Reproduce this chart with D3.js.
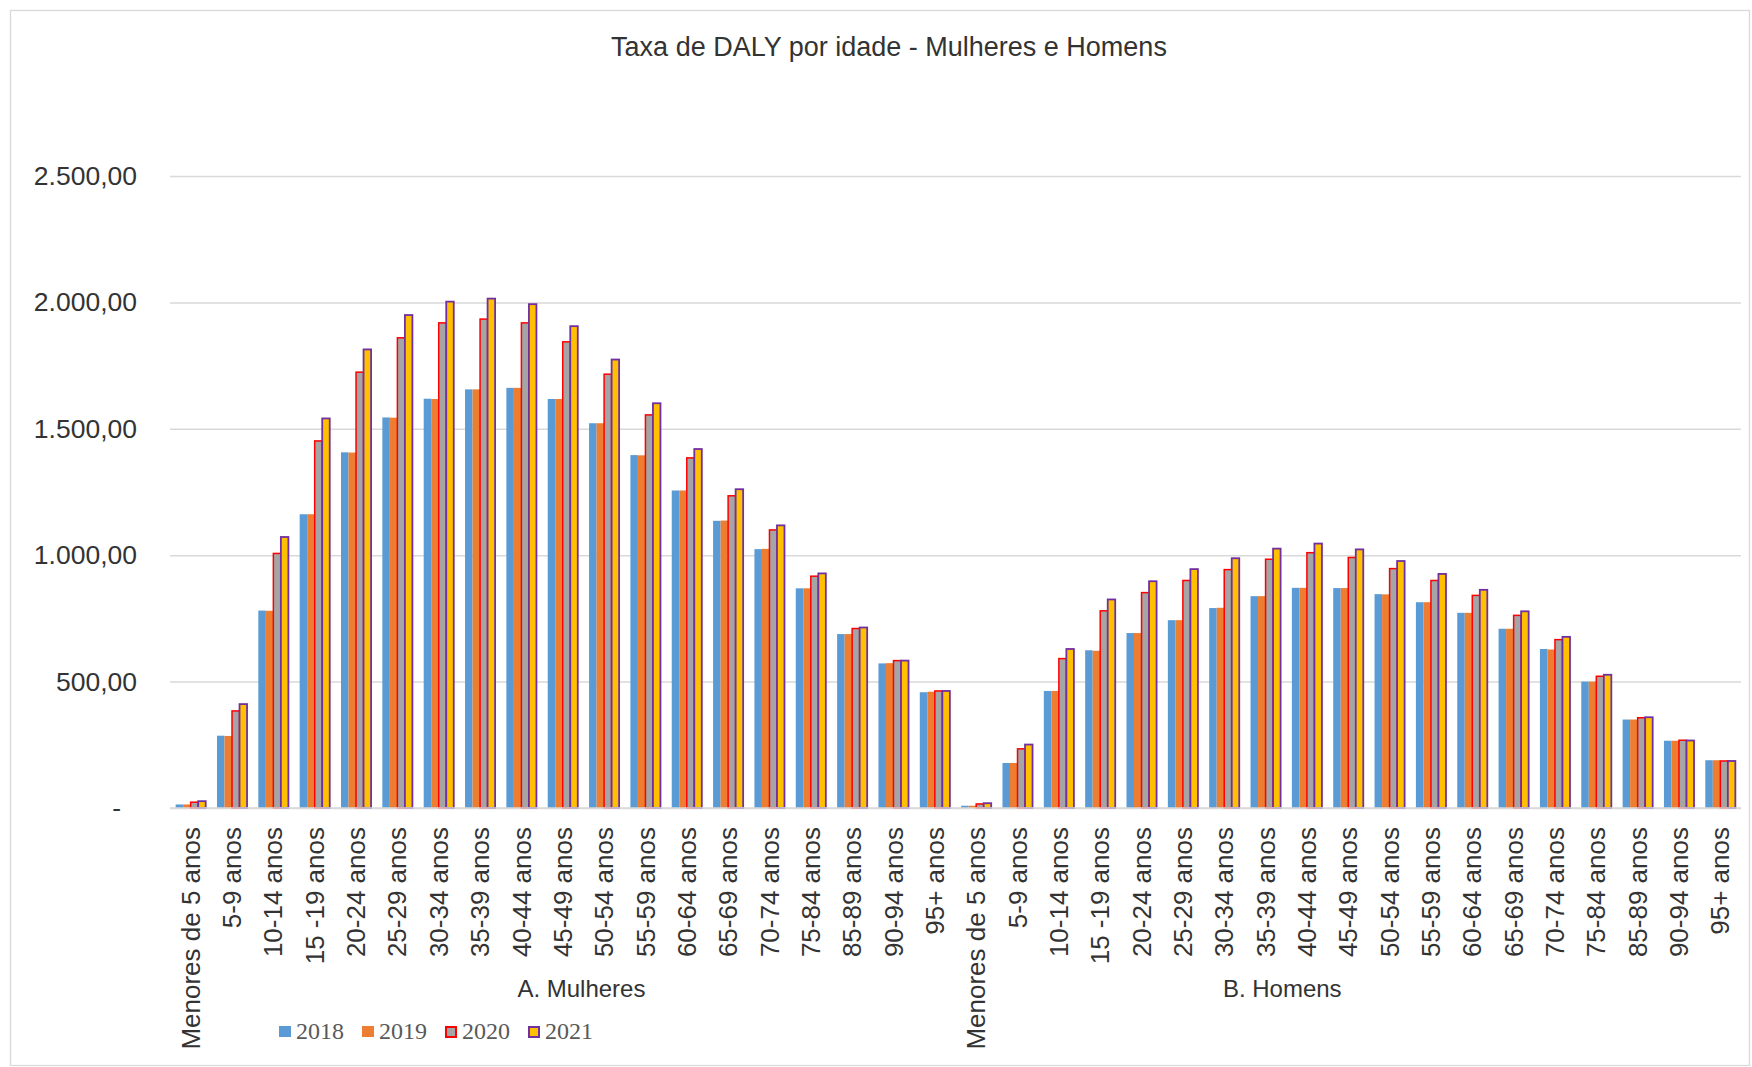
<!DOCTYPE html>
<html>
<head>
<meta charset="utf-8">
<script src="https://cdn.jsdelivr.net/npm/d3@7"></script>
<style>
	body { margin: 0; background: #fff; }
	svg { display: block; }
</style>
</head>
<body>
<div id="chart"></div>
<script>
var ageGroups = ["Menores de 5 anos", "5-9 anos", "10-14 anos", "15 -19 anos", "20-24 anos", "25-29 anos",
	"30-34 anos", "35-39 anos", "40-44 anos", "45-49 anos", "50-54 anos", "55-59 anos", "60-64 anos",
	"65-69 anos", "70-74 anos", "75-84 anos", "85-89 anos", "90-94 anos", "95+ anos"];
var sexGroups = ["A. Mulheres", "B. Homens"];
var years = ["2018", "2019", "2020", "2021"];

var mulheres2018 = [14, 286, 781, 1162, 1407, 1545, 1619, 1656, 1662, 1618, 1522, 1396, 1256, 1136, 1024, 869, 688, 572, 458];
var mulheres2019 = [14, 285, 780, 1162, 1406, 1544, 1618, 1656, 1662, 1618, 1522, 1395, 1256, 1137, 1025, 869, 688, 573, 460];
var mulheres2020 = [23, 384, 1007, 1452, 1724, 1860, 1919, 1934, 1919, 1844, 1716, 1555, 1385, 1235, 1100, 917, 710, 583, 463];
var mulheres2021 = [27, 411, 1072, 1541, 1814, 1950, 2003, 2015, 1993, 1906, 1774, 1601, 1420, 1261, 1118, 928, 714, 583, 463];

var homens2018 = [9, 178, 463, 624, 692, 743, 791, 838, 871, 870, 846, 814, 772, 709, 629, 500, 350, 266, 189];
var homens2019 = [9, 178, 463, 622, 692, 743, 792, 838, 871, 870, 845, 814, 772, 709, 627, 500, 350, 266, 189];
var homens2020 = [16, 234, 591, 780, 852, 900, 943, 984, 1010, 991, 947, 900, 841, 762, 666, 521, 357, 268, 186];
var homens2021 = [19, 251, 629, 825, 897, 945, 988, 1026, 1046, 1023, 977, 926, 863, 778, 677, 527, 359, 267, 186];

var yTicks = [0, 500, 1000, 1500, 2000, 2500];

var fills = ["#5B9BD5", "#ED7D31", "#A5A5A5", "#FFC000"];
var strokes = ["none", "none", "#FF0000", "#7030A0"];

var width = 1752,
	height = 1067,
	plotLeft = 170,
	plotRight = 1741,
	plotTop = 176,
	plotBottom = 808;

var series = {
	"A. Mulheres": [mulheres2018, mulheres2019, mulheres2020, mulheres2021],
	"B. Homens": [homens2018, homens2019, homens2020, homens2021]
};

// one entry per (sex, age group) so the two halves share one band scale
var rows = [];
sexGroups.forEach(function(sex) {
	ageGroups.forEach(function(age, i) {
		rows.push({
			key: sex + "|" + age,
			sex: sex,
			age: age,
			values: series[sex].map(function(s) { return s[i]; })
		});
	});
});

var svg = d3.select("#chart").append("svg")
	.attr("width", width)
	.attr("height", height);

svg.append("rect")
	.attr("x", 10.5)
	.attr("y", 10.5)
	.attr("width", width - 13)
	.attr("height", height - 12)
	.style("fill", "#fff")
	.style("stroke", "#D9D9D9")
	.style("stroke-width", 1.3);

svg.append("text")
	.attr("x", width / 2 + 13)
	.attr("y", 56)
	.style("fill", "#333")
	.style("font-family", "'Liberation Sans', Arial, sans-serif")
	.style("font-size", "27px")
	.style("text-anchor", "middle")
	.text("Taxa de DALY por idade - Mulheres e Homens");

var x0 = d3.scaleBand()
	.domain(rows.map(function(d) { return d.key; }))
	.range([plotLeft, plotRight]);

// Excel gap width 150%: four bars plus 1.5 bar widths of gap per category
var barW = x0.bandwidth() / 5.5;
var x1 = d3.scaleBand()
	.domain(years)
	.range([barW * 0.75, barW * 4.75]);

var y = d3.scaleLinear()
	.domain([0, 2500])
	.range([plotBottom, plotTop]);

// gridlines
var grid = svg.append("g")
	.attr("transform", "translate(" + plotLeft + ",0)")
	.call(d3.axisLeft(y).tickValues(yTicks).tickSize(-(plotRight - plotLeft)).tickFormat(""));
grid.select(".domain").remove();
grid.selectAll("line")
	.style("stroke", "#D9D9D9")
	.style("stroke-width", 1.5);

// y labels
var yAxis = svg.append("g")
	.attr("transform", "translate(" + plotLeft + ",0)")
	.call(d3.axisLeft(y)
		.tickValues(yTicks)
		.tickSize(0)
		.tickPadding(33)
		.tickFormat(function(d) {
			if (d === 0) {
				return "-";
			}
			return d3.format(",.2f")(d).replace(/,/g, "#").replace(".", ",").replace(/#/g, ".");
		}));
yAxis.select(".domain").remove();
yAxis.selectAll("text")
	.style("fill", "#333")
	.style("font-family", "'Liberation Sans', Arial, sans-serif")
	.style("font-size", "26.5px")
	.attr("dx", function(d) { return d === 0 ? -16 : 0; });

// bars
var groups = svg.append("g")
	.selectAll("g")
	.data(rows)
	.join("g")
	.attr("transform", function(d) { return "translate(" + x0(d.key) + ",0)"; });

groups.selectAll("rect")
	.data(function(d) {
		return d.values.map(function(v, i) { return { year: years[i], value: v, index: i }; });
	})
	.join("rect")
	.attr("x", function(d) { return x1(d.year); })
	.attr("y", function(d) { return y(d.value); })
	.attr("width", x1.bandwidth())
	.attr("height", function(d) { return y(0) - y(d.value); })
	.style("fill", function(d) { return fills[d.index]; })
	.style("stroke", function(d) { return strokes[d.index]; })
	.style("stroke-width", function(d) { return d.index === 3 ? 1.8 : 1.5; });

// baseline
svg.append("line")
	.attr("x1", plotLeft)
	.attr("x2", plotRight)
	.attr("y1", y(0))
	.attr("y2", y(0))
	.style("stroke", "#D9D9D9")
	.style("stroke-width", 1.5);

// category labels
var xAxis = svg.append("g")
	.attr("transform", "translate(0," + y(0) + ")")
	.call(d3.axisBottom(x0)
		.tickSize(0)
		.tickFormat(function(d) { return d.split("|")[1]; }));
xAxis.select(".domain").remove();
xAxis.selectAll("text")
	.attr("transform", "rotate(-90)")
	.attr("x", -19)
	.attr("y", 0)
	.attr("dy", "0.35em")
	.style("text-anchor", "end")
	.style("fill", "#333")
	.style("font-family", "'Liberation Sans', Arial, sans-serif")
	.style("font-size", "26px");

// group labels under each half
var groupLabelAt = { "A. Mulheres": "50-54 anos", "B. Homens": "40-44 anos" };
sexGroups.forEach(function(sex, i) {
	svg.append("text")
		.attr("x", x0(sex + "|" + groupLabelAt[sex]))
		.attr("dx", i === 1 ? -4 : -2)
		.attr("y", 997)
		.style("fill", "#333")
		.style("font-family", "'Liberation Sans', Arial, sans-serif")
		.style("font-size", "24px")
		.style("text-anchor", "middle")
		.text(sex);
});

// legend
var legend = svg.append("g")
	.attr("transform", "translate(279,1026)");

var item = legend.selectAll("g")
	.data(years)
	.join("g")
	.attr("transform", function(d, i) { return "translate(" + (i * 83) + ",0)"; });

item.append("rect")
	.attr("x", function(d, i) { return i > 1 ? 1 : 0; })
	.attr("y", function(d, i) { return i > 1 ? 1 : 0; })
	.attr("width", function(d, i) { return i > 1 ? 10 : 12; })
	.attr("height", function(d, i) { return i > 1 ? 10 : 11; })
	.style("fill", function(d, i) { return fills[i]; })
	.style("stroke", function(d, i) { return strokes[i]; })
	.style("stroke-width", 2);

item.append("text")
	.attr("x", 17)
	.attr("y", 13)
	.style("fill", "#595959")
	.style("font-family", "'Liberation Serif', 'Times New Roman', serif")
	.style("font-size", "24px")
	.text(function(d) { return d; });
</script>
</body>
</html>
